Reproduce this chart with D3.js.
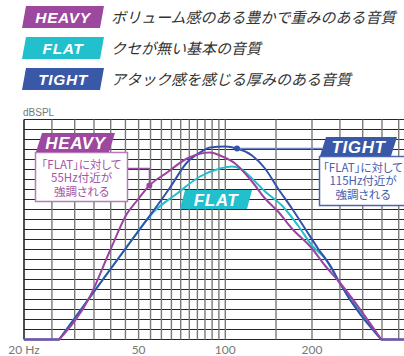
<!DOCTYPE html>
<html>
<head>
<meta charset="utf-8">
<script src="https://cdn.jsdelivr.net/npm/d3@7"></script>
<style>
  body { margin: 0; background: #fff; }
  svg { display: block; }
</style>
</head>
<body>
<div id="chart"></div>
<script>
// presets shown in the legend
var presetNames = ['HEAVY', 'FLAT', 'TIGHT'];
var presetNotes = ['ボリューム感のある豊かで重みのある音質', 'クセが無い基本の音質', 'アタック感を感じる厚みのある音質'];
var presetColors = ['#9c489e', '#22bfcd', '#3a58a8'];

// curves as [Hz, level] pairs (grid steps)
var flatCurve = [[20, 0], [26.5, 0], [44.8, 9.0], [56.1, 12.7], [68.0, 14.6], [81.7, 16.3], [95.9, 17.1], [105.5, 17.3], [112.5, 17.1], [123.8, 16.1], [137.4, 14.8], [157.3, 13.4], [178.8, 11.4], [200, 9.4], [221.9, 8.1], [248, 5.8], [348, 0], [420, 0]];
var tightCurve = [[20, 0], [26.5, 0], [44.8, 9.0], [64.3, 15.2], [73.6, 17.7], [81.7, 18.7], [88.5, 19.2], [99.8, 19.3], [109.8, 19.1], [123.8, 18.4], [137.4, 17.1], [152.4, 15.1], [170.4, 13.1], [189.1, 11.1], [209.8, 9.1], [234.7, 7.1], [248, 5.8], [348, 0], [420, 0]];
var heavyCurve = [[20, 0], [26.5, 0], [33.9, 4.3], [39.8, 8.9], [45.6, 12.6], [49.4, 13.9], [54.5, 15.4], [62.8, 16.7], [73.6, 18.1], [88.5, 18.7], [95.9, 18.4], [108.1, 17.6], [123.8, 15.8], [137.4, 14.1], [152.4, 12.8], [170.4, 11.1], [200, 9.1], [221.9, 7.4], [248, 5.8], [348, 0], [420, 0]];

// grid and axis labels
var gridFreqs = [20, 25, 30, 35, 40, 45, 50, 55, 60, 65, 70, 75, 80, 85, 90, 95, 100, 150, 200, 250, 300, 350, 400];
var tickFreqs = [20, 50, 100, 200];
var tickLabels = ['20 Hz', '50', '100', '200'];
var levelSteps = d3.range(0, 23);

// callouts
var heavyNote = ['「FLAT」に対して', '55Hz付近が', '強調される'];
var tightNote = ['「FLAT」に対して', '115Hz付近が', '強調される'];
var heavyMarkHz = 54.5;
var tightMarkHz = 109.8;

var width = 404, height = 356;
var svg = d3.select('#chart').append('svg')
    .attr('width', width)
    .attr('height', height);

var x = d3.scaleLog().domain([20, 420]).range([24, 24 + 288 * Math.log10(21)]);
var y = d3.scaleLinear().domain([0, 22]).range([339.5, 119.5]);

var jp = '"Noto Sans CJK JP", sans-serif';
var latin = '"Liberation Sans", Arial, sans-serif';

// slanted tag shape
function tagPath(x0, y0, w, h, slant) {
    return 'M' + (x0 + slant) + ',' + y0 + 'L' + (x0 + w) + ',' + y0 +
        'L' + (x0 + w - slant) + ',' + (y0 + h) + 'L' + x0 + ',' + (y0 + h) + 'Z';
}

function tag(g, x0, y0, w, h, slant, color, label, size) {
    g.append('path')
        .attr('d', tagPath(x0, y0, w, h, slant))
        .attr('fill', color);
    g.append('text')
        .attr('x', x0 + w / 2)
        .attr('y', y0 + h / 2 + size * 0.36)
        .attr('text-anchor', 'middle')
        .attr('fill', '#fff')
        .style('font-family', latin)
        .style('font-weight', 'bold')
        .style('font-style', 'italic')
        .style('font-size', size + 'px')
        .style('letter-spacing', '0.6px')
        .text(label);
}

// legend
var legend = svg.append('g');
presetNames.forEach(function (name, i) {
    var top = 6 + i * 31;
    tag(legend, 22, top, 82, 22, 4, presetColors[i], name, 15.5);
    legend.append('text')
        .attr('x', 111)
        .attr('y', top + 17)
        .attr('fill', '#333')
        .style('font-family', jp)
        .style('font-style', 'italic')
        .style('font-size', '15px')
        .text(presetNotes[i]);
});

// grid
var grid = svg.append('g');
grid.selectAll('line.h')
    .data(levelSteps)
    .enter()
    .append('line')
    .attr('x1', x(20))
    .attr('x2', width)
    .attr('y1', function (d) { return y(d); })
    .attr('y2', function (d) { return y(d); })
    .attr('stroke', '#262626')
    .attr('stroke-width', 1);

grid.selectAll('line.v')
    .data(gridFreqs)
    .enter()
    .append('line')
    .attr('x1', function (d) { return x(d); })
    .attr('x2', function (d) { return x(d); })
    .attr('y1', y(22))
    .attr('y2', y(0))
    .attr('stroke', function (d) { return d === 20 ? '#222' : '#7a7a7a'; })
    .attr('stroke-width', function (d) { return d === 20 ? 1.6 : 1.4; });

svg.append('text')
    .attr('x', 23)
    .attr('y', 116)
    .attr('fill', '#777')
    .style('font-family', latin)
    .style('font-size', '10px')
    .text('dBSPL');

svg.selectAll('text.tick')
    .data(tickFreqs)
    .enter()
    .append('text')
    .attr('x', function (d) { return x(d); })
    .attr('y', 354)
    .attr('text-anchor', 'middle')
    .attr('fill', '#777')
    .style('font-family', 'Lato, sans-serif')
    .style('font-size', '12px')
    .text(function (d, i) { return tickLabels[i]; });

// curves: straight flat ends, smooth middle
var smooth = d3.line()
    .x(function (d) { return x(d[0]); })
    .y(function (d) { return y(d[1]); })
    .curve(d3.curveMonotoneX);
var straight = d3.line()
    .x(function (d) { return x(d[0]); })
    .y(function (d) { return y(d[1]); });

function curvePath(pts) {
    var n = pts.length;
    return straight(pts.slice(0, 2)) +
        smooth(pts.slice(1, n - 1)).replace(/^M/, 'L') +
        straight(pts.slice(n - 2)).replace(/^M[^L]*/, '');
}

[[flatCurve, presetColors[1]], [tightCurve, '#3552aa'], [heavyCurve, '#9c44a0']].forEach(function (c) {
    svg.append('path')
        .attr('d', curvePath(c[0]))
        .attr('fill', 'none')
        .attr('stroke', c[1])
        .attr('stroke-width', 2)
        .attr('stroke-linejoin', 'round');
});

function levelAt(curve, hz) {
    return curve.find(function (d) { return d[0] === hz; })[1];
}

function noteLines(lines, cx, y0, color) {
    lines.forEach(function (t, i) {
        svg.append('text')
            .attr('x', cx)
            .attr('y', y0 + i * 13.4)
            .attr('text-anchor', 'middle')
            .attr('fill', color)
            .style('font-family', jp)
            .style('font-size', '11.5px')
            .style('font-feature-settings', '"palt"')
            .text(t);
    });
}

// HEAVY callout
var hx = x(heavyMarkHz), hy = y(levelAt(heavyCurve, heavyMarkHz));
svg.append('path')
    .attr('d', 'M127,168.5H' + hx + 'V' + hy)
    .attr('fill', 'none')
    .attr('stroke', '#a050a4')
    .attr('stroke-width', 1.3);
svg.append('rect')
    .attr('x', 35.5).attr('y', 152.5)
    .attr('width', 92).attr('height', 49)
    .attr('fill', '#fff')
    .attr('stroke', '#b77cb9')
    .attr('stroke-width', 1.5);
noteLines(heavyNote, 81.5, 169, '#a455a6');
tag(svg, 36, 133, 79, 19, 6, presetColors[0], 'HEAVY', 17);
svg.append('circle').attr('cx', hx).attr('cy', hy).attr('r', 3).attr('fill', '#9c44a0');

// TIGHT callout
var tx = x(tightMarkHz), ty = y(levelAt(tightCurve, tightMarkHz));
svg.append('line')
    .attr('x1', tx).attr('x2', 322)
    .attr('y1', ty).attr('y2', ty)
    .attr('stroke', '#6f86c4')
    .attr('stroke-width', 1.5);
svg.append('rect')
    .attr('x', 319.5).attr('y', 156.5)
    .attr('width', 100).attr('height', 49)
    .attr('fill', '#fff')
    .attr('stroke', '#4a66b4')
    .attr('stroke-width', 1.5);
noteLines(tightNote, 363, 172, '#4660ac');
tag(svg, 320, 137, 77, 19, 6, presetColors[2], 'TIGHT', 17);
svg.append('circle').attr('cx', tx).attr('cy', ty).attr('r', 3).attr('fill', '#3552aa');

// FLAT tag
tag(svg, 180, 190, 72, 19, 5, presetColors[1], 'FLAT', 17);
</script>
</body>
</html>
